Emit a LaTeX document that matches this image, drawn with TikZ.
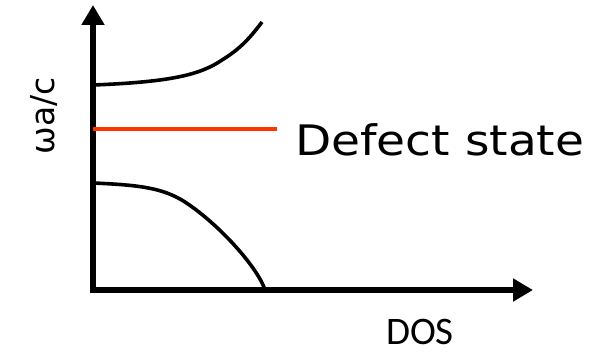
\documentclass[tikz,border=0pt]{standalone}
\usepackage{fontspec}
\setmainfont{DejaVu Sans}
\newfontfamily\dosfont{Carlito}
\usetikzlibrary{arrows.meta}
\begin{document}
\begin{tikzpicture}[x=1pt,y=-1pt,
  axis/.style={line width=5.5pt,-{Triangle[length=20pt,width=22pt]}},
  curve/.style={line width=3.6pt},
  defect/.style={line width=3.6pt,draw={rgb,255:red,255;green,51;blue,0}},
  lbl/.style={inner sep=0pt,anchor=center}]
\useasboundingbox (0,0) rectangle (603,353);
\coordinate (O) at (93,290);
\coordinate (ytip) at (93,5);
\coordinate (xtip) at (533,290);
\draw[axis] ([yshift=2.75pt]O) -- (ytip);
\draw[axis] ([xshift=-2.75pt]O) -- (xtip);
\coordinate (u0) at (93,85);
\coordinate (u1) at (262,22);
\draw[curve] (u0) .. controls (170,82) and (200,75) .. (222,60) .. controls (240,49) and (250,38) .. (u1);
\coordinate (l0) at (93,183);
\coordinate (l1) at (265,290);
\draw[curve] (l0) .. controls (140,185) and (163,188) .. (185,202) .. controls (220,225) and (258,268) .. (l1);
\coordinate (d0) at (93,129);
\coordinate (d1) at (277,129);
\draw[defect] (d0) -- (d1);
\node[lbl,rotate=90,font=\fontsize{33}{33}\selectfont] (w) at (44,116) {ωa/c};
\node[lbl,anchor=base west,xscale=1.12,font=\fontsize{42}{42}\selectfont] (ds) at (295,155) {Defect state};
\node[lbl,anchor=base,font=\dosfont\fontsize{39}{39}\selectfont] (dos) at (420,344) {DOS};
\end{tikzpicture}
\end{document}
